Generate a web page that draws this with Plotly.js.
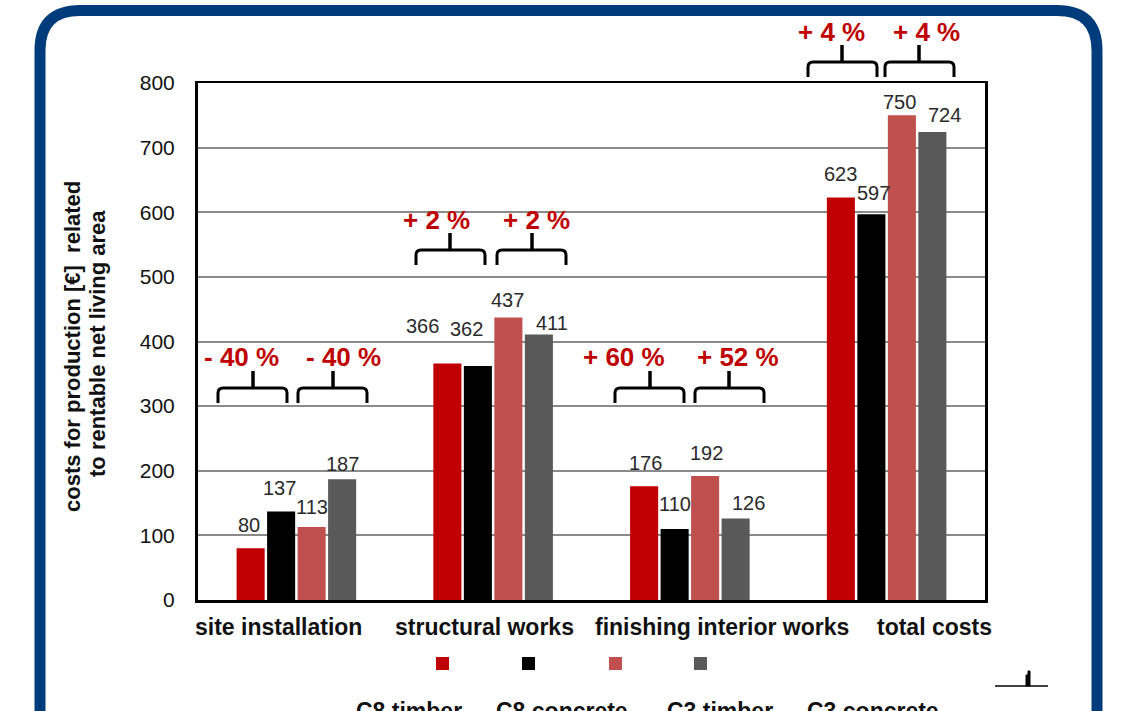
<!DOCTYPE html>
<html>
<head>
<meta charset="utf-8">
<script src="https://cdn.plot.ly/plotly-3.0.1.min.js"></script>
<style>html,body{margin:0;padding:0;background:#fff;}#chart{width:1124px;height:711px;}</style>
</head>
<body>
<div id="chart"></div>
<script>
// ---- data ----
const categories = ['site installation', 'structural works', 'finishing interior works', 'total costs'];
const seriesNames = ['C8 timber', 'C8 concrete', 'C3 timber', 'C3 concrete'];
const c8Timber   = [80, 366, 176, 623];
const c8Concrete = [137, 362, 110, 597];
const c3Timber   = [113, 437, 192, 750];
const c3Concrete = [187, 411, 126, 724];
const changeLabels = [['- 40 %', '- 40 %'], ['+ 2 %', '+ 2 %'], ['+ 60 %', '+ 52 %'], ['+ 4 %', '+ 4 %']];
const yTicks = [0, 100, 200, 300, 400, 500, 600, 700, 800];

// ---- styling / layout config ----
const series = [c8Timber, c8Concrete, c3Timber, c3Concrete];
const colors = ['#C00000', '#000000', '#C0504D', '#595959'];
const W = 1124, H = 711;
const M = {l: 198, r: 139, t: 83, b: 111};
const PW = W - M.l - M.r, PH = H - M.t - M.b;
const px = x => (x - M.l) / PW;
const py = y => (H - M.b - y) / PH;
const BARGAP = 0.38;
const slot = (1 - BARGAP) / 4;
const FONT = 'Liberation Sans, Arial, sans-serif';

// label nudges [dx, dy] in px, per series then category
const labelNudge = [
  [[-2, 23], [-25, 37], [1, 23], [0, 23.5]],
  [[-2, 23.5], [-11, 37], [0, 25], [2, 21]],
  [[0, 20], [-1, 18], [1, 23], [-2, 13]],
  [[0, 15], [13, 11.5], [13, 15.6], [12, 17]]
];
// brace geometry per category, pixel coords: two braces each [x1, x2, tickX], y line, label centers
const braceGeom = [
  {y: 388, b: [[218, 287, 253], [298, 367, 333]], lx: [241, 343], ly: 357},
  {y: 250, b: [[416, 485, 450], [497, 566, 532]], lx: [436, 536], ly: 220},
  {y: 388, b: [[615, 684, 650], [695, 764, 729]], lx: [624, 738], ly: 357},
  {y: 62,  b: [[808, 877, 842], [885, 954, 919]], lx: [831, 926], ly: 32}
];
const catLabelX = [278, 484, 722, 934];
const legendSqX = [436, 522, 609, 694];
const legendTxtX = [409, 562, 720, 873];

const traces = series.map((vals, s) => ({
  type: 'bar',
  name: seriesNames[s],
  x: categories,
  y: vals,
  marker: {color: colors[s], line: {width: 0}},
  hoverinfo: 'x+y+name'
}));

const annotations = [];
const shapes = [];

// value labels
series.forEach((vals, s) => {
  vals.forEach((v, i) => {
    annotations.push({
      xref: 'x', yref: 'y', x: i + (s - 1.5) * slot, y: v,
      xshift: labelNudge[s][i][0], yshift: labelNudge[s][i][1],
      text: String(v), showarrow: false, yanchor: 'middle', xanchor: 'center',
      font: {family: FONT, size: 20, color: '#2a2a2a'}
    });
  });
});

// braces and percentage labels
braceGeom.forEach((g, i) => {
  g.b.forEach((b, k) => {
    const [x1, x2, tx] = b;
    const y = g.y, yb = g.y + 15, r = 5;
    const path = `M ${px(x1)},${py(yb)} L ${px(x1)},${py(y + r)} Q ${px(x1)},${py(y)} ${px(x1 + r)},${py(y)} ` +
                 `L ${px(x2 - r)},${py(y)} Q ${px(x2)},${py(y)} ${px(x2)},${py(y + r)} L ${px(x2)},${py(yb)}`;
    shapes.push({type: 'path', xref: 'paper', yref: 'paper', path: path, line: {color: '#000', width: 3}});
    shapes.push({type: 'path', xref: 'paper', yref: 'paper',
      path: `M ${px(tx)},${py(y)} L ${px(tx)},${py(y - 17)}`, line: {color: '#000', width: 3.5}});
    annotations.push({
      xref: 'paper', yref: 'paper', x: px(g.lx[k]), y: py(g.ly),
      text: '<b>' + changeLabels[i][k] + '</b>', showarrow: false, xanchor: 'center', yanchor: 'middle',
      font: {family: FONT, size: 26, color: '#C00000'}
    });
  });
});

// category labels
categories.forEach((c, i) => {
  annotations.push({
    xref: 'paper', yref: 'paper', x: px(catLabelX[i]), y: py(627),
    text: '<b>' + c + '</b>', showarrow: false, xanchor: 'center', yanchor: 'middle',
    font: {family: FONT, size: 23, color: '#111'}
  });
});

// y-axis title (two lines)
annotations.push({
  xref: 'paper', yref: 'paper', x: px(72), y: py(346), textangle: -90,
  text: '<b>costs for production [€]  related</b>', showarrow: false, xanchor: 'center', yanchor: 'middle',
  font: {family: FONT, size: 22, color: '#111'}
});
annotations.push({
  xref: 'paper', yref: 'paper', x: px(97), y: py(344), textangle: -90,
  text: '<b>to rentable net living area</b>', showarrow: false, xanchor: 'center', yanchor: 'middle',
  font: {family: FONT, size: 22, color: '#111'}
});

// legend (squares + names, names partly cut at bottom as in the reference)
seriesNames.forEach((n, s) => {
  shapes.push({type: 'rect', xref: 'paper', yref: 'paper',
    x0: px(legendSqX[s]), x1: px(legendSqX[s] + 13), y0: py(670), y1: py(657),
    fillcolor: colors[s], line: {width: 0}});
  annotations.push({
    xref: 'paper', yref: 'paper', x: px(legendTxtX[s]), y: py(711),
    text: '<b>' + n + '</b>', showarrow: false, xanchor: 'center', yanchor: 'middle',
    font: {family: FONT, size: 23, color: '#111'}
  });
});

// small mark bottom right
shapes.push({type: 'line', xref: 'paper', yref: 'paper', x0: px(995), x1: px(1048), y0: py(686), y1: py(686),
  line: {color: '#000', width: 1.5}});
shapes.push({type: 'path', xref: 'paper', yref: 'paper',
  path: `M ${px(1026)},${py(686)} L ${px(1026)},${py(675)} L ${px(1028)},${py(675)} L ${px(1028)},${py(671)} L ${px(1030)},${py(671)} L ${px(1030)},${py(686)} Z`,
  fillcolor: '#000', line: {color: '#000', width: 1}});

// outer rounded frame
(function () {
  const x0 = 40, x1 = 1097, y0 = 10.5, y1 = 820, r = 40;
  const p = `M ${px(x0)},${py(y1)} L ${px(x0)},${py(y0 + r)} Q ${px(x0)},${py(y0)} ${px(x0 + r)},${py(y0)} ` +
            `L ${px(x1 - r)},${py(y0)} Q ${px(x1)},${py(y0)} ${px(x1)},${py(y0 + r)} L ${px(x1)},${py(y1)}`;
  shapes.push({type: 'path', xref: 'paper', yref: 'paper', path: p, line: {color: '#003B7B', width: 11}});
})();

const layout = {
  width: W, height: H,
  margin: M,
  paper_bgcolor: '#ffffff', plot_bgcolor: '#ffffff',
  showlegend: false,
  barmode: 'group', bargap: BARGAP, bargroupgap: 0.08,
  font: {family: FONT, color: '#111'},
  xaxis: {
    type: 'category', range: [-0.5, 3.5], showticklabels: false, ticks: '',
    showgrid: false, showline: true, linecolor: '#000', linewidth: 2.5, mirror: true, fixedrange: true
  },
  yaxis: {
    range: [0, 800], tickvals: yTicks, ticktext: yTicks.map(String), ticks: '',
    showgrid: true, gridcolor: '#8a8a8a', gridwidth: 2, zeroline: false,
    showline: true, linecolor: '#000', linewidth: 3, mirror: true,
    ticklabelstandoff: 16, tickfont: {family: FONT, size: 21, color: '#111'}, fixedrange: true
  },
  annotations: annotations,
  shapes: shapes
};

Plotly.newPlot('chart', traces, layout, {displayModeBar: false, staticPlot: true});
</script>
</body>
</html>
